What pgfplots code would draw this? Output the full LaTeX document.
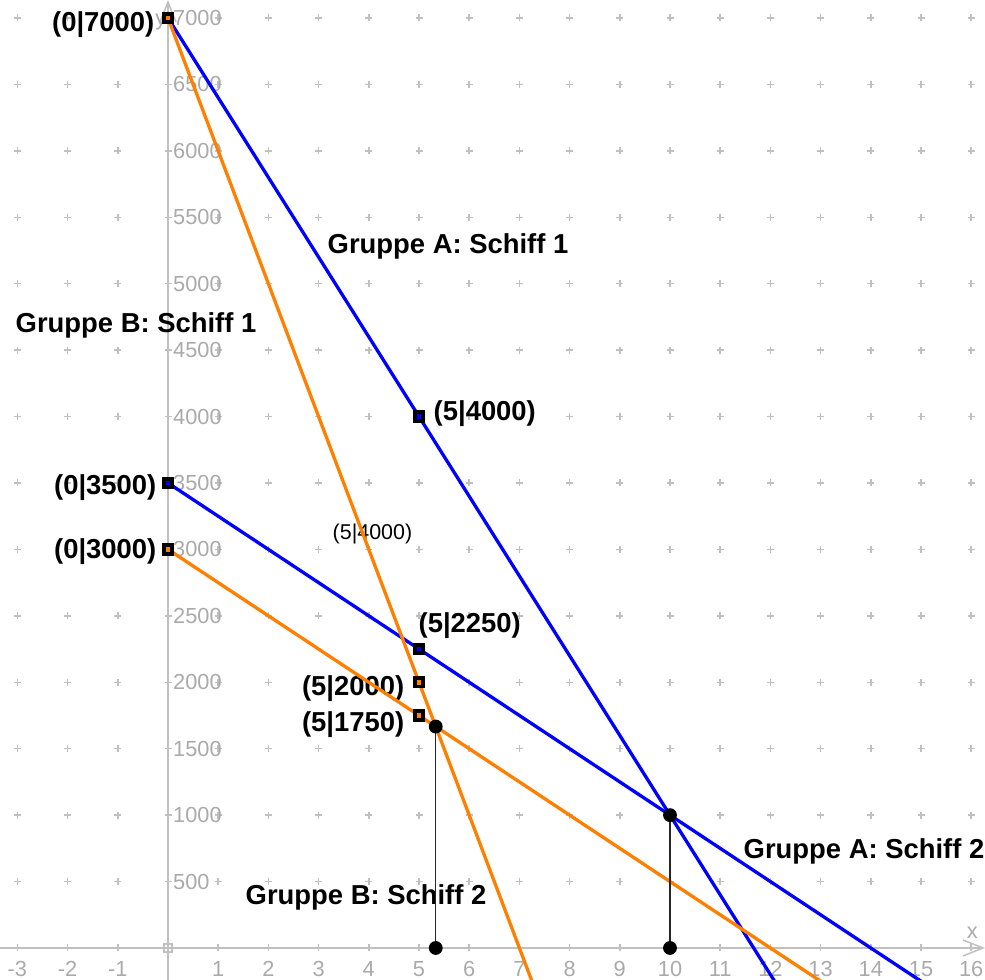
\documentclass[border=0pt]{standalone}
\usepackage{fontspec}
\setmainfont{Liberation Sans}
\usepackage{pgfplots}
\pgfplotsset{compat=1.18}
\usetikzlibrary{arrows.meta}
\definecolor{ggblue}{RGB}{0,0,255}
\definecolor{ggorange}{RGB}{255,127,0}
\definecolor{gridgray}{RGB}{192,192,192}
\definecolor{labgray}{RGB}{170,170,170}
\newcommand\tickfont{\fontsize{6.2}{7}\selectfont}
\tikzset{
  lbl/.style={inner sep=0pt, font=\fontsize{7.8}{9}\selectfont\bfseries, text=black},
  slbl/.style={inner sep=0pt, font=\fontsize{6.1}{7}\selectfont, text=black},
}
\begin{document}
\begin{tikzpicture}
\begin{axis}[
  scale only axis, width=9.85cm, height=9.8cm,
  xmin=-3.3466, xmax=16.275, ymin=-240.9, ymax=7135.5,
  axis lines=middle,
  axis line style={draw=gridgray, line width=0.15mm, -{Straight Barb[length=2mm,width=1.6mm]}},
  clip mode=individual,
  xtick={-3,-2,-1,1,2,3,4,5,6,7,8,9,10,11,12,13,14,15,16},
  xticklabels={-3,-2,-1,1,2,3,4,5,6,7,8,9,10,11,12,13,14,15,16},
  ytick={500,1000,1500,2000,2500,3000,3500,4000,4500,5000,5500,6000,6500,7000},
  yticklabels={500,1000,1500,2000,2500,3000,3500,4000,4500,5000,5500,6000,6500,7000},
  tick align=center, major tick length=0.7mm,
  tick style={draw=gridgray, line width=0.15mm},
  xticklabel style={font=\tickfont, text=labgray, inner sep=0pt, anchor=north, yshift=-0.9mm},
  yticklabel style={font=\tickfont, text=labgray, inner sep=0pt, anchor=west, xshift=0.8mm},
  grid=major,
  major grid style={draw=gridgray, line width=0.15mm},
  every axis x grid/.append style={dash pattern=on 0.7mm off 5.943mm, dash phase=3.793mm},
  every axis y grid/.append style={dash pattern=on 0.7mm off 4.32mm, dash phase=3.63mm},
]
\coordinate (BL) at (rel axis cs:0,0);
\coordinate (TR) at (rel axis cs:1,1);

% labels
\node[lbl, anchor=base east] at (axis cs:-0.259,6895) {(0|7000)};
\node[lbl, anchor=base east] at (axis cs:-0.219,3410) {(0|3500)};
\node[lbl, anchor=base east] at (axis cs:-0.219,2935) {(0|3000)};
\node[lbl, anchor=base west] at (axis cs:5.279,3974) {(5|4000)};
\node[lbl, anchor=base west] at (axis cs:4.98,2378) {(5|2250)};
\node[lbl, anchor=base east] at (axis cs:4.72,1904) {(5|2000)};
\node[lbl, anchor=base east] at (axis cs:4.72,1626) {(5|1750)};
\node[lbl, anchor=base west] at (axis cs:3.167,5231) {Gruppe A: Schiff 1};
\node[lbl, anchor=base west] at (axis cs:-3.048,4629) {Gruppe B: Schiff 1};
\node[lbl, anchor=base west] at (axis cs:11.454,677) {Gruppe A: Schiff 2};
\node[lbl, anchor=base west] at (axis cs:1.534,324) {Gruppe B: Schiff 2};
\node[slbl, anchor=base west] at (axis cs:3.267,3078) {(5|4000)};
\node[inner sep=0pt, font=\tickfont, text=labgray, anchor=base] at (axis cs:16.02,75) {x};
\node[inner sep=0pt, font=\tickfont, text=labgray, anchor=base east] at (axis cs:-0.02,6940) {y};

% lines
\addplot[ggblue, line width=0.33mm] coordinates {(0,7000)(5,4000)(10,1000)(13,-800)};
\addplot[ggblue, line width=0.33mm] coordinates {(0,3500)(5,2250)(10,1000)(17,-750)};
\addplot[ggorange, line width=0.33mm] coordinates {(0,7000)(5,2000)(8,-1000)};
\addplot[ggorange, line width=0.33mm] coordinates {(0,3000)(5,1750)(15,-750)};
\addplot[black!85, line width=0.15mm] coordinates {(5.3333,1666.67)(5.3333,0)};
\addplot[black!85, line width=0.15mm] coordinates {(10,1000)(10,0)};

% points
\addplot[only marks, mark=square, mark size=0.4mm, mark options={draw=gridgray, line width=0.12mm}] coordinates {(0,0)};
\addplot[only marks, mark=*, mark size=0.62mm, mark options={fill=black, draw=black}] coordinates {(5.3333,1666.67)(5.3333,0)(10,1000)(10,0)};
\addplot[only marks, mark=square*, mark size=0.42mm, mark options={draw=black, fill=ggblue, line width=0.38mm}] coordinates {(0,3500)(5,4000)(5,2250)};
\addplot[only marks, mark=square*, mark size=0.42mm, mark options={draw=black, fill=ggorange, line width=0.38mm}] coordinates {(0,7000)(0,3000)(5,2000)(5,1750)};
\end{axis}
\pgfresetboundingbox
\useasboundingbox (BL) rectangle (TR);
\end{tikzpicture}
\end{document}
